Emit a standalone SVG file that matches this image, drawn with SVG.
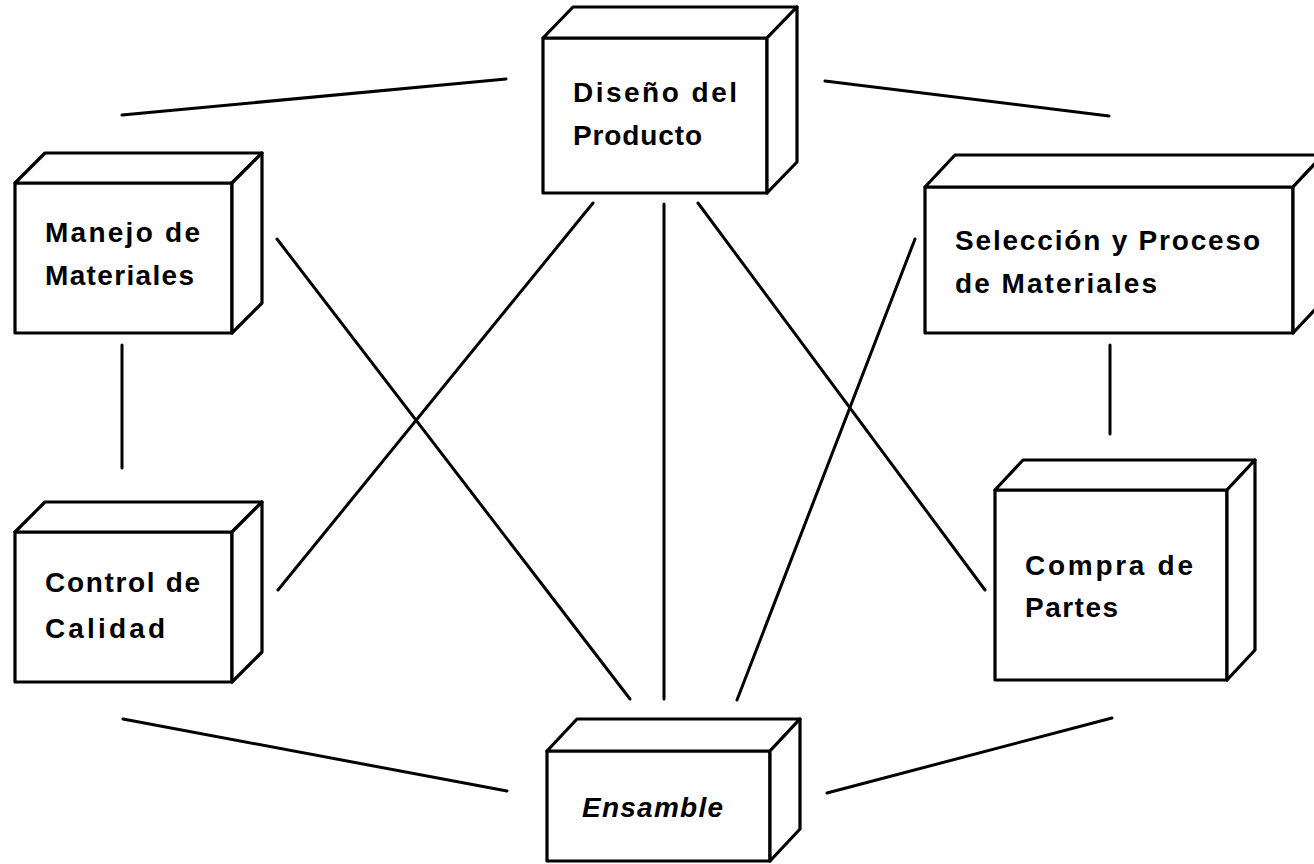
<svg xmlns="http://www.w3.org/2000/svg" width="1314" height="864" viewBox="0 0 1314 864">
  <style>
    .box path { fill: #ffffff; stroke: #000000; stroke-width: 3.2; stroke-linejoin: round; }
    .lbl { font-family: "Liberation Sans", Arial, Helvetica, sans-serif; font-weight: bold; font-size: 28px; fill: #000000; }
    .it { font-style: italic; }
    #connectors line { stroke: #000000; stroke-width: 3; stroke-linecap: round; }
  </style>
  <rect width="1314" height="864" fill="#ffffff"/>

  <!-- links between the work areas -->
  <g id="connectors">
    <line x1="122" y1="115" x2="506" y2="79"/>
    <line x1="825" y1="81" x2="1109" y2="116"/>
    <line x1="122" y1="345" x2="122" y2="468"/>
    <line x1="1110" y1="345" x2="1110" y2="434"/>
    <line x1="123" y1="719" x2="507" y2="791"/>
    <line x1="827" y1="793" x2="1112" y2="718"/>
    <line x1="277" y1="239" x2="630" y2="699"/>
    <line x1="593" y1="203" x2="278" y2="590"/>
    <line x1="664" y1="204" x2="664" y2="699"/>
    <line x1="698" y1="203" x2="985" y2="590"/>
    <line x1="915" y1="239" x2="737" y2="700"/>
  </g>

  <!-- Diseño del Producto -->
  <g id="diseno" class="box">
    <path d="M543 38 H767 V193 H543 Z"/>
    <path d="M543 38 L573 7 H797 L767 38 Z"/>
    <path d="M767 38 L797 7 V162 L767 193 Z"/>
    <text class="lbl" x="573" y="102" textLength="164" lengthAdjust="spacing">Diseño del</text>
    <text class="lbl" x="573" y="145" textLength="129" lengthAdjust="spacing">Producto</text>
  </g>

  <!-- Manejo de Materiales -->
  <g id="manejo" class="box">
    <path d="M15 183 H232 V333 H15 Z"/>
    <path d="M15 183 L45 153 H262 L232 183 Z"/>
    <path d="M232 183 L262 153 V303 L232 333 Z"/>
    <text class="lbl" x="45" y="242" textLength="155" lengthAdjust="spacing">Manejo de</text>
    <text class="lbl" x="45" y="285" textLength="149" lengthAdjust="spacing">Materiales</text>
  </g>

  <!-- Selección y Proceso de Materiales -->
  <g id="seleccion" class="box">
    <path d="M925 187 H1293 V333 H925 Z"/>
    <path d="M925 187 L955 155 H1323 L1293 187 Z"/>
    <path d="M1293 187 L1323 155 V301 L1293 333 Z"/>
    <text class="lbl" x="955" y="250" textLength="305" lengthAdjust="spacing">Selección y Proceso</text>
    <text class="lbl" x="955" y="293" textLength="202" lengthAdjust="spacing">de Materiales</text>
  </g>

  <!-- Control de Calidad -->
  <g id="control" class="box">
    <path d="M15 532 H232 V682 H15 Z"/>
    <path d="M15 532 L45 502 H262 L232 532 Z"/>
    <path d="M232 532 L262 502 V652 L232 682 Z"/>
    <text class="lbl" x="45" y="592" textLength="155" lengthAdjust="spacing">Control de</text>
    <text class="lbl" x="45" y="638" textLength="120" lengthAdjust="spacing">Calidad</text>
  </g>

  <!-- Compra de Partes -->
  <g id="compra" class="box">
    <path d="M995 490 H1227 V680 H995 Z"/>
    <path d="M995 490 L1023 460 H1255 L1227 490 Z"/>
    <path d="M1227 490 L1255 460 V650 L1227 680 Z"/>
    <text class="lbl" x="1025" y="575" textLength="168" lengthAdjust="spacing">Compra de</text>
    <text class="lbl" x="1025" y="617" textLength="93" lengthAdjust="spacing">Partes</text>
  </g>

  <!-- Ensamble -->
  <g id="ensamble" class="box">
    <path d="M547 751 H770 V861 H547 Z"/>
    <path d="M547 751 L577 719 H800 L770 751 Z"/>
    <path d="M770 751 L800 719 V829 L770 861 Z"/>
    <text class="lbl it" x="582" y="817" textLength="141" lengthAdjust="spacing">Ensamble</text>
  </g>
</svg>
